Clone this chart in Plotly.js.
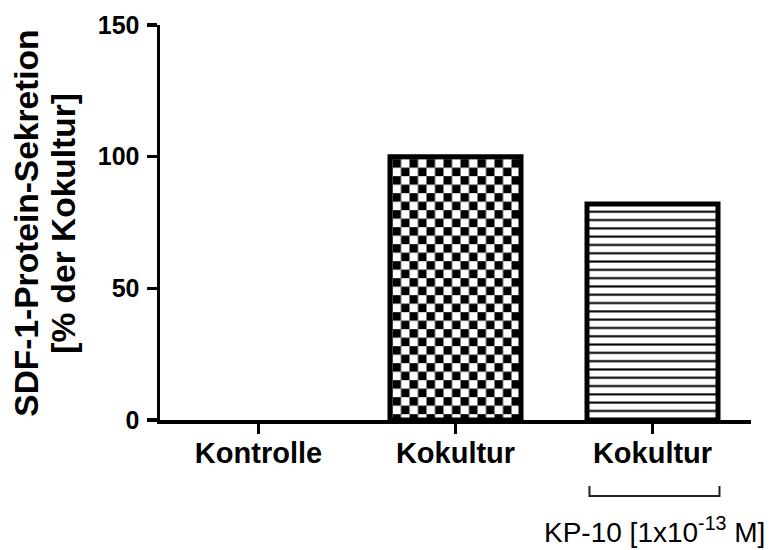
<!DOCTYPE html>
<html><head><meta charset="utf-8">
<script src="https://cdn.plot.ly/plotly-3.0.1.min.js"></script>
<style>html,body{margin:0;padding:0;background:#fff}</style>
</head><body>
<div id="chart" style="width:771px;height:550px"></div>
<script>
const positions = [0, 1, 2];
const tickLabels = ['Kontrolle', 'Kokultur', 'Kokultur'];
const values = [0, 100, 82];
const patternShapes = ['', '', '-'];
const yTicks = [0, 50, 100, 150];
const yRange = [0, 150];
const titleLine1 = 'SDF-1-Protein-Sekretion';
const titleLine2 = '[% der Kokultur]';
const treatmentLabel = 'KP-10 [1x10<sup>-13</sup> M]';
const treatmentIndex = 2;

const FONT = 'Liberation Sans, Arial, Helvetica, sans-serif';

const data = [{
  type: 'bar',
  x: positions,
  y: values,
  width: 0.665,
  marker: {
    color: 'white',
    line: {color: 'black', width: values.map(v => v === 0 ? 0 : 5)},
    pattern: {shape: patternShapes, fgcolor: 'black', bgcolor: 'white', size: 8.3, solidity: 0.25}
  },
  hoverinfo: 'none'
}];

const bx0 = treatmentIndex - 0.32, bx1 = treatmentIndex + 0.34;
const layout = {
  width: 771, height: 550,
  margin: {l: 160, r: 20, t: 25, b: 130},
  paper_bgcolor: 'white', plot_bgcolor: 'white',
  showlegend: false,
  font: {family: FONT, color: 'black'},
  xaxis: {
    range: [-0.5, 2.5], tickmode: 'array', tickvals: positions, ticktext: tickLabels,
    showline: true, linecolor: 'black', linewidth: 3.5,
    ticks: 'outside', ticklen: 10, tickwidth: 3.5, tickcolor: 'black',
    showgrid: false, zeroline: false, ticklabelstandoff: -5,
    tickfont: {family: FONT, size: 29, weight: 'bold', color: 'black'}
  },
  yaxis: {
    range: yRange, tickmode: 'array', tickvals: yTicks,
    showline: true, linecolor: 'black', linewidth: 3.5,
    ticks: 'outside', ticklen: 10, tickwidth: 3.5, tickcolor: 'black',
    showgrid: false, zeroline: false, ticklabelstandoff: 2,
    tickfont: {family: FONT, size: 25, weight: 'bold', color: 'black'}
  },
  shapes: [{
    type: 'path', xref: 'x', yref: 'paper',
    path: `M ${bx0},-0.167 L ${bx0},-0.1924 L ${bx1},-0.1924 L ${bx1},-0.167`,
    line: {color: '#222', width: 2}
  }],
  annotations: [
    {text: titleLine1, xref: 'paper', yref: 'paper', x: (27 - 160) / 591, y: 0.497,
     textangle: -90, showarrow: false, xanchor: 'center', yanchor: 'middle',
     font: {family: FONT, size: 33.5, weight: 'bold', color: 'black'}},
    {text: titleLine2, xref: 'paper', yref: 'paper', x: (64 - 160) / 591, y: 0.497,
     textangle: -90, showarrow: false, xanchor: 'center', yanchor: 'middle',
     font: {family: FONT, size: 33.5, weight: 'bold', color: 'black'}},
    {text: treatmentLabel, xref: 'x', yref: 'paper', x: treatmentIndex + 0.01, y: (420 - 530) / 395,
     showarrow: false, xanchor: 'center', yanchor: 'middle',
     font: {family: FONT, size: 28, color: 'black'}}
  ]
};

Plotly.newPlot('chart', data, layout, {staticPlot: true, displayModeBar: false}).then(gd => {
  const NS = 'http://www.w3.org/2000/svg';
  const svg = gd.querySelector('.main-svg');
  let defs = svg.querySelector('defs');
  if (!defs) { defs = document.createElementNS(NS, 'defs'); svg.insertBefore(defs, svg.firstChild); }
  const paths = gd.querySelectorAll('.barlayer .point path');
  const target = paths[1];
  const bb = target.getBBox();
  const s = 8.5;
  const pat = document.createElementNS(NS, 'pattern');
  pat.setAttribute('id', 'checker');
  pat.setAttribute('patternUnits', 'userSpaceOnUse');
  pat.setAttribute('x', bb.x + 2.5);
  pat.setAttribute('y', bb.y + 2.5);
  pat.setAttribute('width', 2 * s);
  pat.setAttribute('height', 2 * s);
  const mk = (x, y, w, h, c) => { const r = document.createElementNS(NS, 'rect');
    r.setAttribute('x', x); r.setAttribute('y', y); r.setAttribute('width', w); r.setAttribute('height', h);
    r.setAttribute('fill', c); pat.appendChild(r); };
  mk(0, 0, 2 * s, 2 * s, 'white');
  mk(0, 0, s, s, 'black');
  mk(s, s, s, s, 'black');
  defs.appendChild(pat);
  target.style.fill = 'url(#checker)';
});
</script>
</body></html>
